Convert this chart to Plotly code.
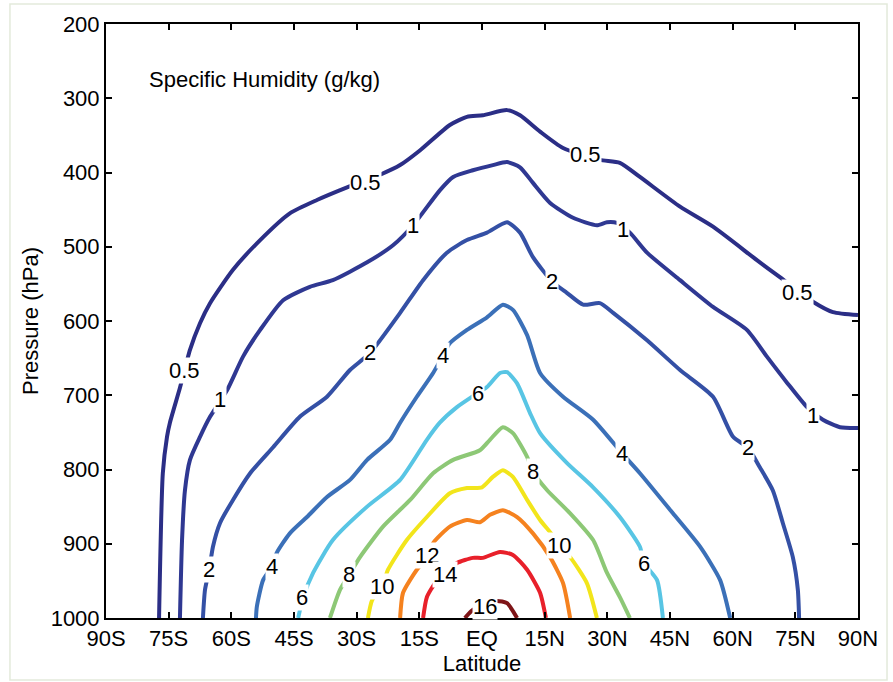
import plotly.graph_objects as go

# ---- data: contour lines of zonal-mean specific humidity (g/kg) ----
levels = ["0.5", "1", "2", "4", "6", "8", "10", "12", "14", "16"]
colors = ["#2b2e86", "#2f3892", "#3450a5", "#3b70b8", "#58c5e4",
          "#8dc876", "#f2e51b", "#f5821f", "#e8202a", "#7e1518"]

lat_05 = [-77.3, -76.4, -75.4, -74.7, -72.3, -69.9, -67.5, -65.1, -59.6, -53.1, -46.0, -39.5, -32.3, -24.4,
          -19.6, -14.8, -7.7, -3.6, 0.2, 6.0, 9.1, 13.9, 19.4, 28.2, 33.0, 37.8, 47.4, 55.3, 65.8, 71.3,
          79.2, 84.0, 90.0]
p_05 = [1000, 805, 756, 737, 690, 639, 603, 576, 531, 491, 455, 437, 420, 403,
        390, 370, 336, 325, 323, 316, 323, 345, 367, 383, 387, 406, 446, 473, 518, 541,
        574, 588, 592]

lat_1 = [-72.3, -71.8, -71.1, -69.9, -67.5, -65.1, -61.0, -57.2, -53.1, -47.6, -41.2, -35.7, -27.5, -21.3,
         -16.5, -10.1, -6.9, -2.2, 2.6, 6.0, 9.1, 12.2, 16.3, 21.8, 27.5, 29.9, 32.3, 35.4, 39.5, 47.4,
         55.3, 63.4, 68.2, 73.0, 77.8, 81.6, 85.7, 90.0]
p_1 = [1000, 895, 828, 787, 756, 729, 693, 648, 612, 572, 554, 545, 521, 498,
       471, 424, 406, 397, 390, 386, 393, 414, 441, 461, 471, 467, 468, 481, 508, 545,
       581, 612, 648, 683, 716, 733, 743, 744]

lat_2 = [-66.8, -66.3, -65.3, -64.4, -62.7, -59.6, -55.5, -50.0, -43.6, -37.1, -31.6, -26.8, -19.6, -14.1,
         -8.4, -3.6, 1.2, 6.0, 9.1, 12.2, 16.8, 20.3, 24.2, 28.2, 31.4, 39.5, 47.4, 55.3, 60.1, 63.7,
         66.5, 69.6, 72.0, 74.4, 75.6, 75.9]
p_2 = [1000, 962, 935, 904, 872, 841, 805, 770, 729, 702, 666, 643, 589, 545,
       508, 491, 481, 467, 481, 514, 547, 562, 578, 576, 589, 626, 666, 702, 756, 771,
       797, 828, 872, 918, 962, 1000]

lat_4 = [-54.1, -53.9, -52.4, -50.3, -49.1, -46.0, -41.9, -37.1, -31.6, -27.5, -22.0, -19.6, -15.6, -11.7,
         -9.3, -7.7, -3.6, 1.2, 5.0, 7.4, 10.8, 13.9, 19.4, 26.6, 33.5, 37.8, 45.7, 52.2, 57.0, 59.4]
p_4 = [1000, 985, 949, 931, 912, 886, 864, 837, 814, 787, 760, 737, 702, 670,
       646, 630, 612, 595, 578, 585, 619, 670, 702, 733, 778, 805, 859, 904, 949, 1000]

lat_6 = [-44.0, -42.8, -40.4, -35.7, -27.5, -19.6, -13.2, -10.1, -6.0, -1.0, 1.2, 4.3, 6.0, 8.4,
         11.5, 13.9, 20.3, 26.6, 33.0, 37.8, 38.8, 41.9, 43.3]
p_6 = [1000, 972, 939, 895, 850, 814, 760, 737, 716, 697, 689, 670, 669, 684,
       724, 751, 791, 824, 864, 904, 926, 949, 1000]

lat_8 = [-36.4, -34.0, -31.8, -29.2, -23.7, -17.2, -11.7, -6.9, -0.5, 1.9, 5.0, 7.4, 10.8, 12.2,
         15.6, 21.1, 26.6, 29.9, 33.0, 35.4]
p_8 = [1000, 962, 942, 918, 877, 841, 805, 787, 774, 760, 743, 751, 783, 803,
       828, 859, 895, 939, 972, 1000]

lat_10 = [-27.3, -26.3, -23.9, -22.5, -18.0, -13.2, -7.7, -3.6, 0.0, 2.6, 5.0, 7.4, 10.8, 13.9,
          16.8, 18.7, 21.1, 25.1, 27.5]
p_10 = [1000, 976, 958, 935, 895, 864, 832, 825, 824, 810, 801, 810, 841, 868,
        888, 904, 918, 953, 1000]

lat_12 = [-19.6, -18.9, -15.6, -13.2, -11.7, -7.7, -3.6, -0.5, 1.9, 5.0, 8.4, 12.2, 16.3, 19.4, 21.1]
p_12 = [1000, 966, 935, 919, 899, 877, 868, 871, 861, 855, 864, 886, 918, 953, 1000]

lat_14 = [-14.1, -13.2, -11.2, -8.9, -6.0, -2.2, 0.2, 4.3, 7.4, 10.8, 13.9, 15.3]
p_14 = [1000, 972, 953, 942, 926, 919, 919, 911, 915, 935, 966, 1000]

lat_16 = [-4.1, -2.2, 0.7, 3.6, 6.0, 8.4]
p_16 = [1000, 989, 982, 977, 980, 1000]

# contour label positions (latitude, pressure) for each level
label_level = ["0.5", "0.5", "0.5", "0.5", "1", "1", "1", "1", "2", "2", "2", "2",
               "4", "4", "4", "6", "6", "6", "8", "8", "10", "10", "12", "14", "16"]
label_lat = [-71.1, -28.0, 24.7, 75.4, -62.7, -16.5, 33.7, 79.2, -65.3, -26.8, 16.8, 63.7,
             -50.3, -9.3, 33.5, -43.1, -1.0, 38.8, -31.8, 12.2, -23.9, 18.4, -13.2, -8.9, 0.7]
label_p = [667, 413, 376, 561, 706, 471, 477, 727, 935, 643, 547, 771,
           931, 646, 778, 972, 697, 926, 942, 803, 958, 902, 916, 942, 985]

x_tickvals = [-90, -75, -60, -45, -30, -15, 0, 15, 30, 45, 60, 75, 90]
x_ticktext = ["90S", "75S", "60S", "45S", "30S", "15S", "EQ", "15N", "30N", "45N", "60N", "75N", "90N"]
y_tickvals = [200, 300, 400, 500, 600, 700, 800, 900, 1000]

lats = [lat_05, lat_1, lat_2, lat_4, lat_6, lat_8, lat_10, lat_12, lat_14, lat_16]
ps = [p_05, p_1, p_2, p_4, p_6, p_8, p_10, p_12, p_14, p_16]

FONT = "Liberation Sans, Arial, Helvetica, sans-serif"
FS = 22

fig = go.Figure()
for lev, col, la, pp in zip(levels, colors, lats, ps):
    fig.add_trace(go.Scatter(x=la, y=pp, mode="lines", name=lev,
                             line=dict(color=col, width=4, shape="spline", smoothing=0.6),
                             hoverinfo="name"))

for lev, la, pp in zip(label_level, label_lat, label_p):
    fig.add_annotation(x=la, y=pp, text=lev, showarrow=False,
                       font=dict(family=FONT, size=FS, color="black"),
                       bgcolor="white", borderpad=0)

fig.add_annotation(x=0.055, y=0.906, xref="paper", yref="paper", xanchor="left", yanchor="middle",
                   text="Specific Humidity (g/kg)", showarrow=False,
                   font=dict(family=FONT, size=FS, color="black"))

fig.add_shape(type="rect", xref="paper", yref="paper",
              x0=-0.1277, x1=1.0386, y0=-0.1044, y1=1.0337,
              line=dict(color="#e3eadb", width=1.5), layer="below")

fig.update_xaxes(range=[-90, 90], tickvals=x_tickvals, ticktext=x_ticktext,
                 showline=True, linecolor="black", linewidth=2, mirror="ticks",
                 ticks="inside", ticklen=6, tickwidth=1.5, tickcolor="black",
                 showgrid=False, zeroline=False, automargin=False,
                 tickfont=dict(family=FONT, size=FS, color="black"),
                 title=dict(text="Latitude", font=dict(family=FONT, size=FS, color="black"), standoff=0))
fig.update_yaxes(range=[1000, 200], tickvals=y_tickvals,
                 showline=True, linecolor="black", linewidth=2, mirror="ticks",
                 ticks="inside", ticklen=6, tickwidth=1.5, tickcolor="black",
                 showgrid=False, zeroline=False, automargin=False,
                 tickfont=dict(family=FONT, size=FS, color="black"),
                 title=dict(text="Pressure (hPa)", font=dict(family=FONT, size=FS, color="black"), standoff=6))

fig.update_layout(width=893, height=682, showlegend=False,
                  plot_bgcolor="white", paper_bgcolor="white",
                  margin=dict(l=106, r=35, t=24, b=64))

fig.write_html("out.html", config={"displayModeBar": False},
               post_script="document.body.style.margin='0';")
